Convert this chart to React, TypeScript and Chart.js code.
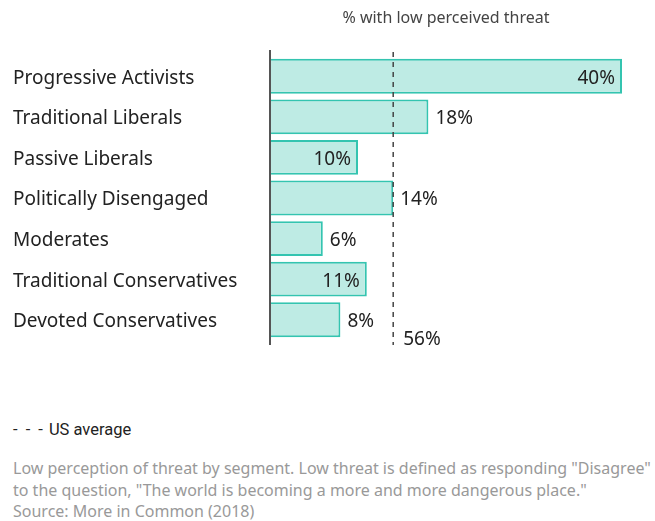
import React, { useEffect, useRef } from "react";
import { Chart, registerables } from "chart.js";

Chart.register(...registerables);

const categories = [
  "Progressive Activists",
  "Traditional Liberals",
  "Passive Liberals",
  "Politically Disengaged",
  "Moderates",
  "Traditional Conservatives",
  "Devoted Conservatives",
];
const values = [40, 18, 10, 14, 6, 11, 8];
const valueLabels = ["40%", "18%", "10%", "14%", "6%", "11%", "8%"];
const labelInside = [true, false, true, false, false, true, false];
const usAverageValue = 14;
const usAverageLabel = "56%";
const chartTitle = "% with low perceived threat";
const legendDashes = "- - -";
const legendText = "US average";
const captionLines = [
  'Low perception of threat by segment. Low threat is defined as responding "Disagree"',
  'to the question, "The world is becoming a more and more dangerous place."',
  "Source: More in Common (2018)",
];

const FONT = "'Noto Sans', Lato, sans-serif";

export default function App() {
  const ref = useRef<HTMLCanvasElement | null>(null);

  useEffect(() => {
    document.body.style.margin = "0";
    const canvas = ref.current;
    if (!canvas) return;

    const overlay = {
      id: "overlay",
      afterDatasetsDraw(chart: any) {
        const { ctx, chartArea, scales } = chart;
        const xs = scales.x;
        const meta = chart.getDatasetMeta(0);
        ctx.save();
        // title
        ctx.fillStyle = "#444";
        ctx.font = `16px ${FONT}`;
        ctx.textAlign = "center";
        ctx.textBaseline = "middle";
        ctx.fillText(chartTitle, (chartArea.left + chartArea.right) / 2, 18);

        // dashed average line
        const ax = xs.getPixelForValue(usAverageValue);
        ctx.strokeStyle = "#444";
        ctx.lineWidth = 1.5;
        ctx.setLineDash([5, 5]);
        ctx.beginPath();
        ctx.moveTo(ax, chartArea.top - 4);
        ctx.lineTo(ax, chartArea.bottom + 5);
        ctx.stroke();
        ctx.setLineDash([]);

        // axis line
        ctx.strokeStyle = "#555";
        ctx.lineWidth = 2;
        ctx.beginPath();
        ctx.moveTo(chartArea.left, chartArea.top - 6);
        ctx.lineTo(chartArea.left, chartArea.bottom + 5);
        ctx.stroke();

        // value labels
        ctx.font = `19px ${FONT}`;
        ctx.fillStyle = "#222";
        ctx.textBaseline = "middle";
        meta.data.forEach((bar: any, i: number) => {
          if (labelInside[i]) {
            ctx.textAlign = "right";
            ctx.fillText(valueLabels[i], bar.x - 7, bar.y + 2);
          } else {
            ctx.textAlign = "left";
            ctx.fillText(valueLabels[i], bar.x + 7, bar.y + 2);
          }
        });

        // average label
        ctx.textAlign = "left";
        ctx.fillText(usAverageLabel, ax + 10, chartArea.bottom);
        ctx.restore();
      },
    };

    const chart = new Chart(canvas, {
      type: "bar",
      data: {
        labels: categories,
        datasets: [
          {
            data: values,
            backgroundColor: "rgb(190, 235, 228)",
            borderColor: "rgb(52, 196, 176)",
            borderWidth: 2,
            borderSkipped: "start",
            categoryPercentage: 1,
            barPercentage: 0.86,
          },
        ],
      },
      options: {
        indexAxis: "y",
        responsive: false,
        animation: false,
        devicePixelRatio: 1,
        layout: { padding: { left: 13, right: 33, top: 56, bottom: 20 } },
        plugins: {
          legend: { display: false },
          tooltip: { enabled: false },
          title: { display: false },
        },
        scales: {
          x: { min: 0, max: 40, display: false },
          y: {
            type: "category",
            grid: { display: false },
            border: { display: false },
            ticks: {
              crossAlign: "far",
              color: "#222",
              labelOffset: 2,
              font: { family: FONT, size: 19 },
            },
            afterFit: (scale: any) => {
              scale.width = 257;
            },
          },
        },
      },
      plugins: [overlay],
    } as any);

    return () => chart.destroy();
  }, []);

  return (
    <div style={{ position: "relative", width: 655, height: 521, background: "#fff" }}>
      <canvas ref={ref} width={655} height={360} style={{ display: "block" }} />
      <div
        style={{
          position: "absolute",
          left: 13,
          top: 420,
          fontFamily: "Roboto, sans-serif",
          fontSize: 16.5,
          color: "#222",
          lineHeight: "20px",
          whiteSpace: "nowrap",
        }}
      >
        <span style={{ letterSpacing: "2px" }}>{legendDashes}</span>
        <span style={{ marginLeft: 4 }}>{legendText}</span>
      </div>
      <div
        style={{
          position: "absolute",
          left: 13,
          top: 458,
          fontFamily: FONT,
          fontSize: 16,
          color: "#999",
          lineHeight: "21.5px",
          whiteSpace: "nowrap",
        }}
      >
        {captionLines.map((l, i) => (
          <div key={i}>{l}</div>
        ))}
      </div>
    </div>
  );
}
